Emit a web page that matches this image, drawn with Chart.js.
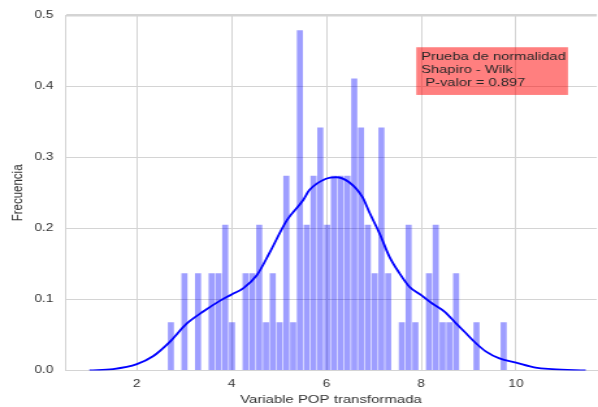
<!DOCTYPE html>
<html>
<head>
<meta charset="utf-8">
<script src="https://cdn.jsdelivr.net/npm/chart.js@4/dist/chart.umd.min.js"></script>
<style>
  html, body { margin: 0; padding: 0; background: #fff; overflow: hidden; }
  /* the reference picture is stretched sideways, so the chart is too */
  #wrap { width: 460px; height: 407px; transform: scaleX(1.3); transform-origin: 0 0; }
</style>
</head>
<body>
<div id="wrap"><canvas id="chart"></canvas></div>
<script>
// histogram bins (centres) and their density
const binCenters = [
  2.718, 2.861, 3.004, 3.148, 3.291, 3.434, 3.578, 3.721, 3.864, 4.007,
  4.151, 4.294, 4.437, 4.581, 4.724, 4.867, 5.010, 5.154, 5.297, 5.440,
  5.584, 5.727, 5.870, 6.014, 6.157, 6.300, 6.443, 6.587, 6.730, 6.873,
  7.017, 7.160, 7.303, 7.446, 7.590, 7.733, 7.876, 8.020, 8.163, 8.306,
  8.450, 8.593, 8.736, 8.879, 9.023, 9.166, 9.309, 9.453, 9.596, 9.739
]
const binDensity = [
  0.068, 0, 0.137, 0, 0.137, 0, 0.137, 0.137, 0.205, 0.068,
  0, 0.137, 0.137, 0.205, 0.068, 0.137, 0.068, 0.274, 0.068, 0.479,
  0.205, 0.274, 0.342, 0.205, 0.274, 0.274, 0.274, 0.411, 0.342, 0.205,
  0.137, 0.342, 0.137, 0, 0.068, 0.205, 0.068, 0, 0.137, 0.205,
  0.068, 0.068, 0.137, 0, 0, 0.068, 0, 0, 0, 0.068
]

// kde curve
const kdeX = [1.00, 1.50, 2.00, 2.34, 2.69, 3.05, 3.40, 3.75, 4.00, 4.25,
  4.53, 4.81, 5.16, 5.51, 5.64, 5.99, 6.20, 6.48, 6.76, 6.91,
  7.12, 7.33, 7.54, 7.75, 8.00, 8.24, 8.49, 8.74, 8.95, 9.16,
  9.36, 9.65, 10.00, 10.41, 10.76, 11.47]
const kdeY = [0.000, 0.002, 0.009, 0.020, 0.040, 0.066, 0.083, 0.098, 0.107, 0.116,
  0.134, 0.167, 0.211, 0.240, 0.254, 0.270, 0.272, 0.265, 0.244, 0.222,
  0.193, 0.160, 0.137, 0.118, 0.106, 0.094, 0.083, 0.066, 0.052, 0.038,
  0.027, 0.017, 0.011, 0.004, 0.002, 0.000]

const xTicks = [2, 4, 6, 8, 10]
const boxLines = ["Prueba de normalidad", "Shapiro - Wilk", " P-valor = 0.897"]
const boxAt = { x: 8, y: 0.4 }

Chart.defaults.font.family = "'Liberation Sans', Arial, sans-serif"
Chart.defaults.color = "#333"

const gridColor = "#d4d4d4"

const statsBox = {
  id: "statsBox",
  afterDatasetsDraw(chart) {
    const ctx = chart.ctx
    const left = chart.scales.x.getPixelForValue(boxAt.x)
    const base = chart.scales.y.getPixelForValue(boxAt.y)
    const lineH = 13.2
    ctx.save()
    ctx.font = "11.3px 'Liberation Sans', Arial, sans-serif"
    let w = 0
    boxLines.forEach(t => { w = Math.max(w, ctx.measureText(t).width) })
    const top = base - lineH * (boxLines.length - 1) - 12.7
    ctx.fillStyle = "rgba(255, 0, 0, 0.5)"
    ctx.fillRect(left - 3.8, top, w + 5.5, base + 8.6 - top)
    ctx.fillStyle = "#262626"
    ctx.textBaseline = "alphabetic"
    boxLines.forEach((t, i) => {
      ctx.fillText(t, left, base - lineH * (boxLines.length - 1 - i))
    })
    ctx.restore()
  }
}

new Chart(document.getElementById("chart"), {
  type: "bar",
  data: {
    datasets: [
      {
        type: "line",
        data: kdeX.map((x, i) => ({ x: x, y: kdeY[i] })),
        borderColor: "#0000ff",
        borderWidth: 1.8,
        pointRadius: 0,
        cubicInterpolationMode: "monotone",
        fill: false,
        order: 0
      },
      {
        type: "bar",
        data: binCenters.map((x, i) => ({ x: x, y: binDensity[i] })),
        backgroundColor: "rgba(0, 0, 255, 0.38)",
        borderWidth: 0,
        barPercentage: 0.9,
        categoryPercentage: 1,
        order: 1
      }
    ]
  },
  plugins: [statsBox],
  options: {
    responsive: true,
    maintainAspectRatio: false,
    animation: false,
    layout: { padding: { top: 15, right: 0, left: 0, bottom: 0 } },
    plugins: {
      legend: { display: false },
      tooltip: { enabled: false }
    },
    scales: {
      x: {
        type: "linear",
        offset: false,
        min: 0.484,
        max: 11.705,
        afterBuildTicks: scale => {
          scale.ticks = xTicks.map(v => ({ value: v }))
        },
        afterFit: scale => { scale.height = 36.5 },
        ticks: {
          font: { size: 10.5 },
          padding: 7,
          maxRotation: 0
        },
        grid: { color: gridColor, drawTicks: false, offset: false },
        border: { display: true, color: gridColor },
        title: {
          display: true,
          text: "Variable POP transformada",
          font: { size: 11.5 },
          color: "#333",
          padding: { top: 0, bottom: 0 }
        }
      },
      y: {
        min: 0,
        max: 0.5,
        afterFit: scale => { scale.width = 50 },
        ticks: {
          stepSize: 0.1,
          font: { size: 10.5 },
          padding: 9,
          callback: v => v.toFixed(1)
        },
        grid: {
          color: gridColor,
          drawTicks: false,
          lineWidth: c => (c.tick && c.tick.value === 0.5 ? 2.5 : 1)
        },
        border: { display: true, color: gridColor },
        title: {
          display: true,
          text: "Frecuencia",
          font: { size: 11.5 },
          color: "#333",
          padding: { top: 7, bottom: 0 }
        }
      }
    }
  }
})
</script>
</body>
</html>
